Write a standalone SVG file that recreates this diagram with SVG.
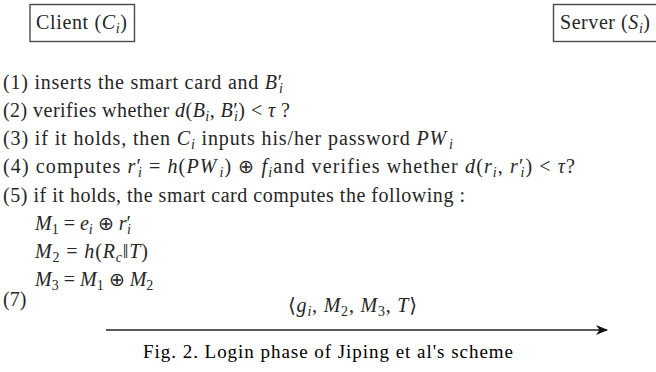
<svg xmlns="http://www.w3.org/2000/svg" width="656" height="372" viewBox="0 0 656 372">
  <style>
    .t { font-family: "Liberation Serif", "DejaVu Serif", serif; font-size: 20px; fill: #262626; }
    .m { font-style: italic; }
    .s { font-size: 14px; }
    .op { font-family: "DejaVu Sans", sans-serif; font-size: 19px; font-weight: 300; }
    .box { fill: #ffffff; stroke: #4a4a4a; stroke-width: 1.4; }
    .cap { font-family: "Liberation Serif", serif; font-size: 19px; fill: #000; }
    .wire { stroke: #222; stroke-width: 1.6; fill: none; }
  </style>
  <defs>
    <marker id="head" viewBox="0 0 12 10" refX="11" refY="5" markerWidth="12" markerHeight="10" markerUnits="userSpaceOnUse" orient="auto">
      <path d="M0,0 L12,5 L0,10 L3.5,5 Z" fill="#111"/>
    </marker>
  </defs>
  <rect width="656" height="372" fill="#ffffff"/>

  <!-- parties -->
  <g id="client">
    <rect class="box" x="30" y="4.5" width="104.5" height="37"/>
    <text class="t" x="36" y="29" textLength="91" lengthAdjust="spacing">Client (<tspan class="m">C</tspan><tspan class="m s" dy="4">i</tspan><tspan dy="-4">)</tspan></text>
  </g>
  <g id="server">
    <rect class="box" x="553.5" y="4.5" width="104" height="37"/>
    <text class="t" x="560" y="29" textLength="90" lengthAdjust="spacing">Server (<tspan class="m">S</tspan><tspan class="m s" dy="4">i</tspan><tspan dy="-4">)</tspan></text>
  </g>

  <!-- client-side steps -->
  <g id="steps">
    <text class="t" x="3" y="89" textLength="280" lengthAdjust="spacing">(1) inserts the smart card and <tspan class="m">B</tspan>′<tspan class="m s" dx="-4" dy="4">i</tspan></text>
    <text class="t" x="3" y="117" textLength="287" lengthAdjust="spacing">(2) verifies whether <tspan class="m">d</tspan>(<tspan class="m">B</tspan><tspan class="m s" dy="4">i</tspan><tspan dy="-4">, </tspan><tspan class="m">B</tspan>′<tspan class="m s" dx="-4" dy="4">i</tspan><tspan dy="-4">) &lt; </tspan><tspan class="m">τ</tspan> ?</text>
    <text class="t" x="3" y="145" textLength="450" lengthAdjust="spacing">(3) if it holds, then <tspan class="m">C</tspan><tspan class="m s" dy="4">i</tspan><tspan dy="-4"> inputs his/her password </tspan><tspan class="m">PW</tspan><tspan class="m s" dx="2" dy="4">i</tspan></text>
    <text class="t" x="3" y="173" textLength="572" lengthAdjust="spacing">(4) computes <tspan class="m">r</tspan>′<tspan class="m s" dx="-4" dy="4">i</tspan><tspan dy="-4"> = </tspan><tspan class="m">h</tspan>(<tspan class="m">PW</tspan><tspan class="m s" dx="2" dy="4">i</tspan><tspan dy="-4">) </tspan><tspan class="op">⊕</tspan> <tspan class="m">f</tspan><tspan class="m s" dy="4">i</tspan><tspan dy="-4">and verifies whether </tspan><tspan class="m">d</tspan>(<tspan class="m">r</tspan><tspan class="m s" dy="4">i</tspan><tspan dy="-4">, </tspan><tspan class="m">r</tspan>′<tspan class="m s" dx="-4" dy="4">i</tspan><tspan dy="-4">) &lt; </tspan><tspan class="m">τ</tspan>?</text>
    <text class="t" x="3" y="202" textLength="462" lengthAdjust="spacing">(5) if it holds, the smart card computes the following :</text>
    <text class="t" x="35" y="230"><tspan class="m">M</tspan><tspan class="s" dy="4">1</tspan><tspan dy="-4"> = </tspan><tspan class="m">e</tspan><tspan class="m s" dy="4">i</tspan><tspan dy="-4"> </tspan><tspan class="op">⊕</tspan> <tspan class="m">r</tspan>′<tspan class="m s" dx="-4" dy="4">i</tspan></text>
    <text class="t" x="35" y="258" textLength="113" lengthAdjust="spacing"><tspan class="m">M</tspan><tspan class="s" dy="4">2</tspan><tspan dy="-4"> = </tspan><tspan class="m">h</tspan>(<tspan class="m">R</tspan><tspan class="m s" dy="4">c</tspan><tspan dy="-4">‖</tspan><tspan class="m">T</tspan>)</text>
    <text class="t" x="35" y="286"><tspan class="m">M</tspan><tspan class="s" dy="4">3</tspan><tspan dy="-4"> = </tspan><tspan class="m">M</tspan><tspan class="s" dy="4">1</tspan><tspan dy="-4"> </tspan><tspan class="op">⊕</tspan> <tspan class="m">M</tspan><tspan class="s" dy="4">2</tspan></text>
    <text class="t" x="3" y="306">(7)</text>
  </g>

  <!-- login message -->
  <g id="connectors">
    <line class="wire" x1="106" y1="330" x2="607" y2="330" marker-end="url(#head)"/>
    <text class="t" x="288" y="312" textLength="129" lengthAdjust="spacing">⟨<tspan class="m">g</tspan><tspan class="m s" dy="4">i</tspan><tspan dy="-4">, </tspan><tspan class="m">M</tspan><tspan class="s" dy="4">2</tspan><tspan dy="-4">, </tspan><tspan class="m">M</tspan><tspan class="s" dy="4">3</tspan><tspan dy="-4">, </tspan><tspan class="m">T</tspan>⟩</text>
  </g>

  <text class="cap" x="143" y="358" textLength="370" lengthAdjust="spacing">Fig. 2. Login phase of Jiping et al's scheme</text>
</svg>
